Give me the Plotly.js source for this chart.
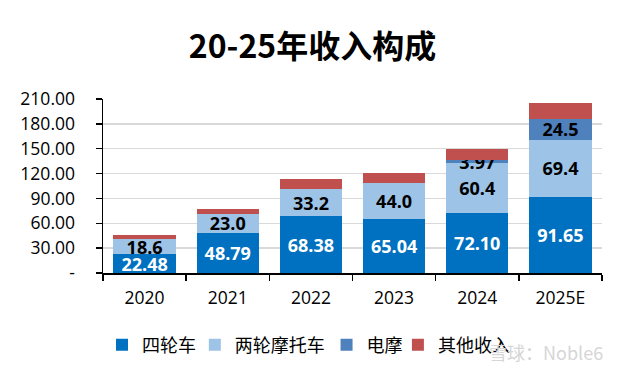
<!DOCTYPE html>
<html>
<head>
<meta charset="utf-8">
<script src="https://cdn.plot.ly/plotly-3.0.1.min.js"></script>
<style>html,body{margin:0;padding:0;background:#fff;}#chart{width:625px;height:375px;}</style>
</head>
<body>
<div id="chart"></div>
<script>
const categories = ["2020", "2021", "2022", "2023", "2024", "2025E"];
const fourWheel = [22.48, 48.79, 68.38, 65.04, 72.10, 91.65];
const twoWheel = [18.6, 23.0, 33.2, 44.0, 60.4, 69.4];
const eMoto = [null, null, null, null, 3.97, 24.5];
const eMotoLabels = ["", "", "", "", "3.97", "24.5"];
const other = [4.4, 5.9, 12.2, 12.0, 13.2, 20.2];
const yTickVals = [0, 30, 60, 90, 120, 150, 180, 210];
const yTickText = ["-", "30.00", "60.00", "90.00", "120.00", "150.00", "180.00", "210.00"];

const cjk = "'Noto Sans CJK SC', 'Noto Sans', sans-serif";
const num = "'Open Sans', 'Noto Sans CJK SC', sans-serif";
const lblFont = (c) => ({family: num, size: 18, color: c, weight: 700});

const traces = [
  {type: "bar", name: "四轮车", x: categories, y: fourWheel, legend: "legend",
   marker: {color: "#0070c0"},
   text: fourWheel.map(v => v.toFixed(2)), textposition: "inside", insidetextanchor: "middle",
   textfont: lblFont("#ffffff"), hoverinfo: "none"},
  {type: "bar", name: "两轮摩托车", x: categories, y: twoWheel, legend: "legend2",
   marker: {color: "#9dc3e6"},
   text: twoWheel.map(v => v.toFixed(1)), textposition: "inside", insidetextanchor: "middle",
   textfont: lblFont("#000000"), hoverinfo: "none"},
  {type: "bar", name: "电摩", x: categories, y: eMoto, legend: "legend3",
   marker: {color: "#4f81bd"},
   text: eMotoLabels, textposition: "inside", insidetextanchor: "middle",
   textfont: lblFont("#000000"), hoverinfo: "none"},
  {type: "bar", name: "其他收入", x: categories, y: other, legend: "legend4",
   marker: {color: "#c0504d"}, textposition: "none", hoverinfo: "none"}
];

const legBase = (x) => ({orientation: "h", x: x, xanchor: "left", y: -0.414, yanchor: "middle",
  font: {family: cjk, size: 18, color: "#000000"}, bgcolor: "rgba(0,0,0,0)"});

const layout = {
  width: 625, height: 375,
  margin: {l: 103, r: 23, t: 99, b: 102},
  paper_bgcolor: "#ffffff", plot_bgcolor: "#ffffff",
  barmode: "stack", bargap: 0.25,
  uniformtext: {mode: "show", minsize: 18},
  title: {text: "<b>20-25年收入构成</b>", x: 0.5, xanchor: "center", y: 0.875, yanchor: "middle",
          font: {family: cjk, size: 32, color: "#000000"}},
  xaxis: {type: "category", showline: true, linecolor: "#000000", linewidth: 1.5,
          ticks: "outside", ticklen: 6, tickcolor: "#000000", tickwidth: 1.5, tickson: "boundaries",
          ticklabelstandoff: 8,
          tickfont: {family: num, size: 17.5, color: "#000000"}, showgrid: false},
  yaxis: {range: [0, 210], tickvals: yTickVals, ticktext: yTickText,
          showline: true, linecolor: "#000000", linewidth: 1.5,
          ticks: "outside", ticklen: 6, tickcolor: "#000000", tickwidth: 1.5,
          ticklabelstandoff: 17,
          showgrid: true, gridcolor: "#d9d9d9", gridwidth: 1.5, zeroline: false,
          tickfont: {family: num, size: 17.5, color: "#000000"}},
  legend: legBase(-0.002),
  legend2: legBase(0.184),
  legend3: legBase(0.448),
  legend4: legBase(0.591),
  showlegend: true,
  annotations: [
    {text: "雪球：Noble6", xref: "paper", yref: "paper", x: 1.006, y: -0.454, xanchor: "right", yanchor: "middle",
     showarrow: false, font: {family: cjk, size: 18, color: "#d6d6d6"}}
  ]
};

Plotly.newPlot("chart", traces, layout, {displayModeBar: false, staticPlot: true});
</script>
</body>
</html>
